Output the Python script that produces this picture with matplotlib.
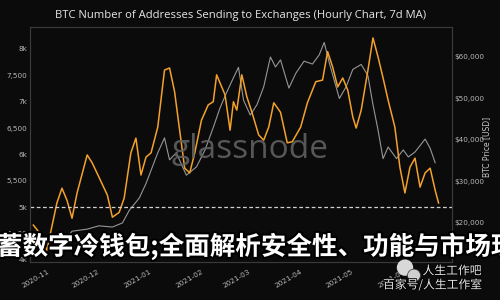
import pandas as pd
import matplotlib
matplotlib.use('Agg')
import matplotlib.pyplot as plt
import matplotlib.dates as mdates
import matplotlib.patheffects as pe
from matplotlib.patches import Ellipse

# 地址数 (左轴, 7d MA)
addr_dates = ['2020-10-24', '2020-10-28', '2020-11-01', '2020-11-07', '2020-11-10', '2020-11-13',
              '2020-11-16', '2020-11-19', '2020-11-25', '2020-11-28', '2020-12-02', '2020-12-07',
              '2020-12-10', '2020-12-14', '2020-12-17', '2020-12-21', '2020-12-24', '2020-12-27',
              '2020-12-30', '2021-01-02', '2021-01-06', '2021-01-10', '2021-01-13', '2021-01-16',
              '2021-01-19', '2021-01-22', '2021-01-25', '2021-01-28', '2021-02-01', '2021-02-05',
              '2021-02-08', '2021-02-10', '2021-02-15', '2021-02-18', '2021-02-20', '2021-02-22',
              '2021-02-25', '2021-02-28', '2021-03-03', '2021-03-07', '2021-03-10', '2021-03-13',
              '2021-03-16', '2021-03-20', '2021-03-24', '2021-03-27', '2021-04-01', '2021-04-05',
              '2021-04-10', '2021-04-14', '2021-04-17', '2021-04-20', '2021-04-23', '2021-04-26',
              '2021-04-29', '2021-05-02', '2021-05-04', '2021-05-07', '2021-05-11', '2021-05-14',
              '2021-05-17', '2021-05-20', '2021-05-23', '2021-05-27', '2021-05-30', '2021-06-02',
              '2021-06-05', '2021-06-08', '2021-06-11', '2021-06-14', '2021-06-17', '2021-06-20',
              '2021-06-22']
addr_values = [4660, 4500, 4180, 5080, 5360, 5130, 4790, 5270, 5990, 5840,
               5570, 5230, 4810, 4900, 5170, 6030, 6310, 5610, 5950,
               6030, 6520, 7600, 7640, 7190, 6460, 5740, 5650, 6030,
               6650, 6940, 7000, 7510, 7130, 6460, 7000, 6840, 7510, 7090,
               6800, 6370, 6270, 6520, 6980, 6800, 6220, 6240,
               6520, 6980, 7380, 7410, 7950, 7660, 7280, 7450, 7220,
               6710, 6500, 6840, 7600, 8210, 7850, 7450, 7030, 6520, 5760,
               5270, 5760, 5930, 5380, 5650, 5740, 5320, 5080]

# BTC 价格 (右轴)
price_dates = ['2020-10-24', '2020-11-01', '2020-11-08', '2020-11-13', '2020-11-16', '2020-11-25',
               '2020-12-02', '2020-12-10', '2020-12-16', '2020-12-20', '2020-12-26', '2020-12-30',
               '2021-01-06', '2021-01-10', '2021-01-13', '2021-01-17', '2021-01-23', '2021-01-29',
               '2021-02-03', '2021-02-08', '2021-02-12', '2021-02-16', '2021-02-20', '2021-02-23',
               '2021-02-26', '2021-03-02', '2021-03-06', '2021-03-10', '2021-03-14', '2021-03-17',
               '2021-03-20', '2021-03-25', '2021-03-29', '2021-04-03', '2021-04-08', '2021-04-12',
               '2021-04-15', '2021-04-18', '2021-04-24', '2021-04-28', '2021-05-02', '2021-05-07',
               '2021-05-11', '2021-05-14', '2021-05-17', '2021-05-20', '2021-05-23', '2021-05-28',
               '2021-06-01', '2021-06-04', '2021-06-08', '2021-06-14', '2021-06-17', '2021-06-20']
price_values = [13000, 13800, 15300, 16500, 18000, 18500, 19300, 19000, 20000, 23000,
                26000, 29500, 36900, 40500, 35200, 36900, 31500, 33500, 37500, 43000,
                47700, 51500, 55000, 57500, 49600, 46000, 48500, 52800, 60000, 57600,
                59300, 52500, 56000, 59000, 58300, 60500, 63500, 58600, 50000, 52800,
                57000, 58200, 55500, 48500, 42400, 35500, 38300, 35500, 37600, 35900,
                37100, 40200, 38000, 34500]

left_ticks = [4000, 4500, 5000, 5500, 6000, 6500, 7000, 7500, 8000]
left_tick_labels = ['4k', '4,500', '5k', '5,500', '6k', '6,500', '7k', '7,500', '8k']
right_ticks = [20000, 30000, 40000, 50000, 60000]
right_tick_labels = ['$20,000', '$30,000', '$40,000', '$50,000', '$60,000']
threshold = 5000

TITLE = 'BTC Number of Addresses Sending to Exchanges (Hourly Chart, 7d MA)'
OVERLAY = '蓄数字冷钱包;全面解析安全性、功能与市场现'

BG = '#0b0b0b'
TXT = '#b8b8b8'
ORANGE = '#f3a12c'
GREY = '#969696'

fig = plt.figure(figsize=(5, 3), dpi=100, facecolor=BG)
ax = fig.add_axes([0.06, 0.127, 0.844, 0.783])
ax2 = ax.twinx()
ax.set_zorder(ax2.get_zorder() + 1)
ax.patch.set_visible(False)
ax2.set_facecolor(BG)

ax2.plot(pd.to_datetime(price_dates), price_values, color=GREY, lw=0.8)
ax.plot(pd.to_datetime(addr_dates), addr_values, color=ORANGE, lw=1.1)
ax.axhline(threshold, color='#d0d0d0', lw=0.9, ls=(0, (3, 2)))

ax.set_xlim(pd.Timestamp('2020-10-22'), pd.Timestamp('2021-06-30'))
ax.set_ylim(3962, 8417)
ax2.set_ylim(10600, 67230)

ax.set_yticks(left_ticks)
ax.set_yticklabels(left_tick_labels)
ax2.set_yticks(right_ticks)
ax2.set_yticklabels(right_tick_labels)

ax.xaxis.set_major_locator(mdates.MonthLocator())
ax.xaxis.set_major_formatter(mdates.DateFormatter('%Y-%m'))
for lbl in ax.get_xticklabels():
    lbl.set_rotation(30)
    lbl.set_ha('right')
    lbl.set_rotation_mode('anchor')

ax.tick_params(axis='x', length=0, pad=5, labelsize=5.2, colors=TXT)
ax.tick_params(axis='y', length=0, pad=2, labelsize=5.2, colors=TXT)
ax2.tick_params(axis='y', length=0, pad=2, labelsize=5.2, colors=TXT)

for a in (ax, ax2):
    for sp in a.spines.values():
        sp.set_color('#3a3a3a')
        sp.set_linewidth(0.8)

fig.text(0.482, 0.947, TITLE, ha='center', va='center', fontsize=8.1,
         color='#e6e6e6', family='Open Sans')
fig.text(0.974, 0.51, 'BTC Price [USD]', rotation=90, ha='center', va='center',
         fontsize=5.5, color='#c8c8c8')

# glassnode 水印
fig.text(0.5, 0.50, 'glassnode', ha='center', va='center', fontsize=24,
         color='#606060', family='Open Sans', alpha=0.9, zorder=10)

# 中文标题覆盖
fig.text(-0.006, 0.178, OVERLAY, ha='left', va='center', fontsize=18.4,
         color='white', fontweight='heavy',
         family=['Noto Sans CJK SC', 'DejaVu Sans'], zorder=20,
         path_effects=[pe.withStroke(linewidth=3, foreground='black')])

# 右下角公众号水印
fig.patches.append(Ellipse((0.81, 0.108), 0.03, 0.05, transform=fig.transFigure,
                           color='#d8d8d8', zorder=21))
fig.patches.append(Ellipse((0.828, 0.082), 0.026, 0.042, transform=fig.transFigure,
                           color='#cfcfcf', ec='#333333', lw=0.5, zorder=22))
fig.text(0.845, 0.097, '人生工作吧', ha='left', va='center', fontsize=8.5,
         color='#e8e8e8', family=['Noto Sans CJK SC', 'DejaVu Sans'], zorder=23,
         path_effects=[pe.withStroke(linewidth=1.2, foreground='black')])
fig.text(0.766, 0.05, '百家号/人生工作室', ha='left', va='center', fontsize=8.5,
         color='#e8e8e8', family=['Noto Sans CJK SC', 'DejaVu Sans'], zorder=23,
         path_effects=[pe.withStroke(linewidth=1.2, foreground='black')])

fig.savefig('out.png', dpi=100, facecolor=BG)
